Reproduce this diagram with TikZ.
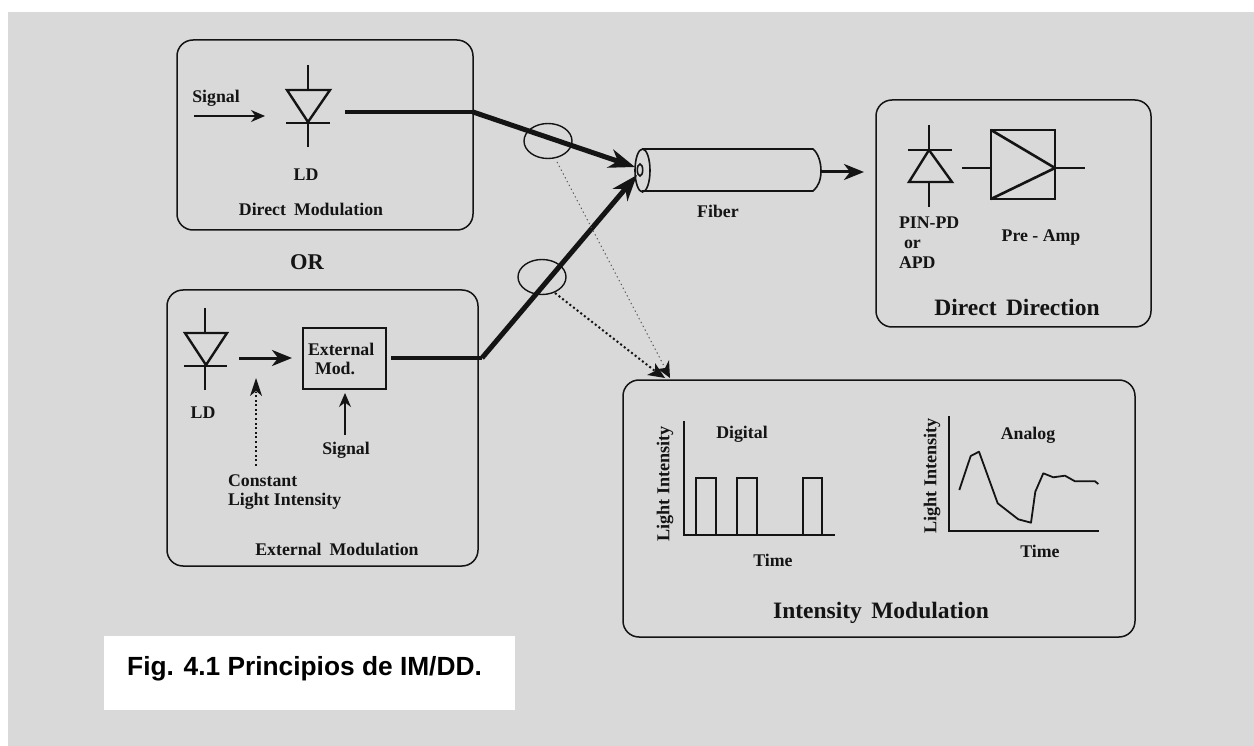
\documentclass[tikz,border=0pt]{standalone}
\usepackage{fontspec}
\setmainfont{Liberation Serif}
\newfontfamily\capfont{Liberation Sans}
\usetikzlibrary{arrows.meta,shapes.geometric}
\definecolor{bggray}{HTML}{D9D9D9}
\definecolor{ink}{HTML}{141414}
\tikzset{
  x=1pt,y=-1pt,
  panel/.style={draw=ink,line width=1.5pt,rounded corners=16pt,inner sep=0pt,outer sep=0pt},
  lbl/.style={inner sep=0pt,outer sep=0pt,text=ink,font=\fontsize{#1}{#1}\selectfont\bfseries},
  lbl/.default=17.8,
  ink line/.style={draw=ink,line width=#1,line cap=butt,line join=miter},
  ink line/.default=1.5pt,
  small arrow/.style={ink line=1.5pt,-{Stealth[length=14pt,width=12pt,inset=4.5pt]}},
  fat arrow/.style={ink line=3pt,-{Stealth[length=20pt,width=16pt,inset=6pt]}},
  beam arrow/.style={ink line=5pt,-{Stealth[length=26pt,width=19pt,inset=8pt]}},
  fine dots/.style={draw=ink!75,line width=0.9pt,dash pattern=on 1.3pt off 3pt},
  bold dots/.style={draw=ink,line width=2pt,dash pattern=on 2pt off 2.6pt},
  bundle/.style={ellipse,draw=ink,line width=1.4pt,inner sep=0pt,outer sep=0pt,minimum width=48pt,minimum height=35pt},
}
\begin{document}
\begin{tikzpicture}
\useasboundingbox (0,0) rectangle (1254,746);
\fill[white] (0,0) rectangle (1254,746);
\fill[bggray] (8,12) rectangle (1254,746);
\node[fill=white,inner sep=0pt,minimum width=411pt,minimum height=74pt] (capbox) at (309.5,673) {};
\node[inner sep=0pt,anchor=west,text=black,font=\capfont\fontsize{26.3}{28}\selectfont\bfseries] (cap) at (127,669) {Fig. 4.1 Principios de IM/DD.};

% panels
\node[panel,minimum width=296pt,minimum height=190pt] (direct) at (325,135) {};
\node[panel,minimum width=311pt,minimum height=276pt] (external) at (322.5,428) {};
\node[panel,minimum width=275pt,minimum height=227pt] (detect) at (1013.5,213.5) {};
\node[panel,minimum width=512pt,minimum height=257pt] (intensity) at (879,508.5) {};

% direct modulation
\coordinate (d1t) at (308,65); \coordinate (d1b) at (308,147);
\draw[ink line=1.7pt] (d1t) -- (308,90);
\draw[ink line=1.7pt] (308,122) -- (d1b);
\draw[ink line=2.4pt] (287,90) -- (330,90) -- (308,122) -- cycle;
\draw[ink line=2pt] (286,123) -- (330,123);
\node[lbl] (sig1) at (216,98) {Signal};
\coordinate (sig1s) at (194,116); \coordinate (sig1e) at (265,116);
\draw[small arrow] (sig1s) -- (sig1e);
\node[lbl] (ld1) at (306,175) {LD};
\node[lbl] (dmlabel) at (311,209) {Direct\hspace{0.45em}Modulation};
\node[lbl=22.5] (orlabel) at (307,262) {OR};

% external modulation
\draw[ink line=1.7pt] (205,308) -- (205,333);
\draw[ink line=1.7pt] (205,365) -- (205,390);
\draw[ink line=2.4pt] (185,333) -- (227,333) -- (206,365) -- cycle;
\draw[ink line=2pt] (184,365.5) -- (227,365.5);
\node[lbl] (ld2) at (203,413) {LD};
\node[draw=ink,line width=2pt,inner sep=0pt,outer sep=0pt,minimum width=83pt,minimum height=61pt] (extmod) at (344.5,358.5) {};
\node[lbl,anchor=west] (ext1) at (308,349) {External};
\node[lbl,anchor=west] (ext2) at (315,368) {Mod.};
\coordinate (ldout) at (239,358);
\draw[fat arrow] (ldout) -- (292,358);
\node[lbl] (sig2) at (346,450) {Signal};
\coordinate (sig2s) at (345,435); \coordinate (sig2e) at (345,393);
\draw[small arrow] (sig2s) -- (sig2e);
\coordinate (cs) at (256,466); \coordinate (ce) at (256,378);
\draw[bold dots,line width=1.4pt] (cs) -- (256,392);
\draw[draw=none,fill=ink] (ce) -- (262,396) -- (256,391) -- (250,396) -- cycle;
\node[lbl,anchor=west] (con1) at (228,481) {Constant};
\node[lbl,anchor=west] (con2) at (228,501) {Light Intensity};
\node[lbl] (emlabel) at (337,549) {External\hspace{0.45em}Modulation};

% fiber
\draw[ink line=1.6pt] (642,149) -- (813,149) .. controls (818,153) and (821,162) .. (821,171) .. controls (821,180) and (818,187) .. (813,191) -- (642,191);
\draw[ink line=1.6pt] (642.5,170.5) ellipse [x radius=7.5,y radius=21.5];
\draw[ink line=1.6pt] (640,170) ellipse [x radius=2.7,y radius=6];
\coordinate (fibin1) at (635,167);
\coordinate (fibin2) at (637,175);
\coordinate (fibout) at (821,172);
\coordinate (detin) at (864,172);
\node[lbl] (fiblabel) at (718,211) {Fiber};
\draw[fat arrow] (fibout) -- (detin);

% beams
\coordinate (a) at (345,112); \coordinate (b) at (473,112);
\draw[ink line=3.4pt] (a) -- (b);
\draw[beam arrow] (b) -- (fibin1);
\coordinate (c) at (391,358); \coordinate (e) at (482,358);
\draw[ink line=3.4pt] (c) -- (e);
\draw[beam arrow] (e) -- (fibin2);
\node[bundle] (b1) at (548,141) {};
\node[bundle] (b2) at (542,277) {};

% dotted to intensity
\coordinate (t1) at (670,378); \coordinate (t2) at (665,378);
\coordinate (s1) at (557,162); \coordinate (s2) at (555,293);
\draw[fine dots] (s1) -- (664,366);
\draw[bold dots] (s2) -- (655,371);
\draw[fill=ink,draw=none] (t1) -- (658,369) -- (665,368) -- (669,360) -- cycle;
\draw[fill=ink,draw=none] (t2) -- (647,375) -- (655,371) -- (655,363) -- cycle;

% detector
\draw[ink line=1.7pt] (929,125) -- (929,150);
\draw[ink line=1.7pt] (929,182) -- (929,207);
\draw[ink line=2pt] (908,150) -- (952,150);
\draw[ink line=2.4pt] (929,150) -- (952,182) -- (909,182) -- cycle;
\node[lbl,anchor=west] (pin) at (899,223) {PIN-PD};
\node[lbl,anchor=west] (orsmall) at (904,244) {or};
\node[lbl,anchor=west] (apd) at (899,263) {APD};
\node[draw=ink,line width=1.8pt,inner sep=0pt,outer sep=0pt,minimum width=64pt,minimum height=69pt] (amp) at (1023,164.5) {};
\draw[ink line=2.6pt] (991,130) -- (1055,168) -- (991,199);
\coordinate (pdout) at (962,168); \coordinate (ampout) at (1085,168);
\draw[ink line=1.2pt] (pdout) -- (991,168);
\draw[ink line=1.2pt] (1055,168) -- (ampout);
\node[lbl] (amplabel) at (1041,238) {Pre - Amp};
\node[lbl=23.5] (ddlabel) at (1017,307) {Direct\hspace{0.4em}Direction};

% digital
\draw[ink line=2pt] (684,421) -- (684,535) -- (835,535);
\draw[ink line=2pt] (696,535) -- (696,478) -- (716,478) -- (716,535);
\draw[ink line=2pt] (737,535) -- (737,478) -- (757,478) -- (757,535);
\draw[ink line=2pt] (803,535) -- (803,478) -- (822,478) -- (822,535);
\node[lbl] (diglabel) at (742,434) {Digital};
\node[lbl=18.2,rotate=90] (li1) at (665,484) {Light Intensity};
\node[lbl] (time1) at (773,560) {Time};

% analog
\draw[ink line=2pt] (949,416) -- (949,531) -- (1099,531);
\draw[ink line=1.8pt,line join=round] (959.3,490) -- (970.7,456) -- (979,451.7) -- (997.7,503.3) -- (1018.3,519.3) -- (1031,522.7) -- (1035.3,491.7) -- (1043.3,473.3) -- (1053.3,477.3) -- (1065,475.7) -- (1075,481.3) -- (1095,481.3) -- (1098.3,484);
\node[lbl] (anlabel) at (1028,435) {Analog};
\node[lbl=18.2,rotate=90] (li2) at (932,476) {Light Intensity};
\node[lbl] (time2) at (1040,551) {Time};
\node[lbl=23.5] (imlabel) at (881,613) {Intensity\hspace{0.4em}Modulation};
\end{tikzpicture}
\end{document}
